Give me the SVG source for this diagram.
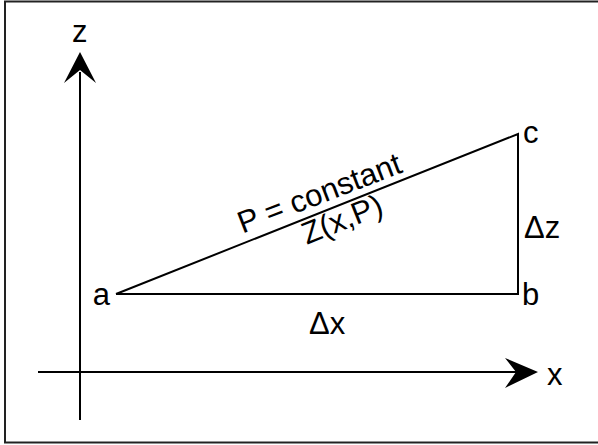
<svg xmlns="http://www.w3.org/2000/svg" width="598" height="445" viewBox="0 0 598 445">
<style>
.t{font-family:"Liberation Sans",Arial,sans-serif;font-size:31px;fill:#000}
.ln{stroke:#000;stroke-width:2;fill:none}
</style>
<rect width="598" height="445" fill="#fff"/>
<rect x="5" y="1.5" width="600" height="441" fill="none" stroke="#222" stroke-width="2"/>
<g id="axes">
<line class="ln" x1="80" y1="420" x2="80" y2="72"/>
<polygon points="80,52 96,83 80,70 64,83" fill="#000"/>
<line class="ln" x1="38" y1="372" x2="520" y2="372"/>
<polygon points="538,372 505,358 516,372 505,388" fill="#000"/>
<text class="t" x="72" y="42">z</text>
<text class="t" x="547" y="385">x</text>
</g>
<g id="connectors">
<polyline class="ln" points="116,294 518,294 518,134 116,294"/>
</g>
<g id="labels">
<text class="t" x="110" y="305" text-anchor="end">a</text>
<text class="t" x="522" y="305">b</text>
<text class="t" x="523" y="143">c</text>
<text class="t" x="524" y="238">Δz</text>
<text class="t" x="309" y="334">Δx</text>
<text class="t" transform="translate(326,210.4) rotate(-21)" x="0" y="-8" text-anchor="middle">P = constant</text>
<text class="t" transform="translate(337,206.8) rotate(-21.7)" x="0" y="24" text-anchor="middle">Z(x,P)</text>
</g>
</svg>
